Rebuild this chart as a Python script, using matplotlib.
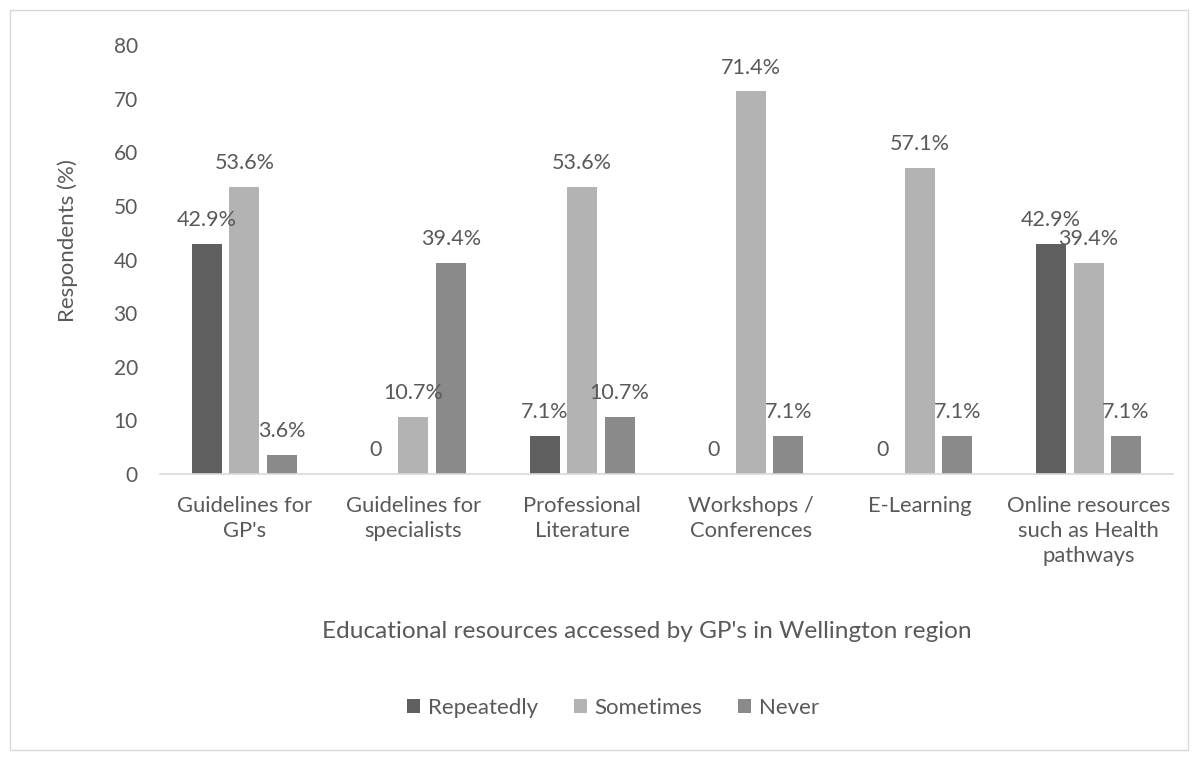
import numpy as np
import matplotlib.pyplot as plt
from matplotlib.patches import Rectangle

plt.rcParams['font.family'] = ['Lato', 'DejaVu Sans']

categories = ["Guidelines for\nGP's", "Guidelines for\nspecialists", "Professional\nLiterature",
              "Workshops /\nConferences", "E-Learning", "Online resources\nsuch as Health\npathways"]
series = ["Repeatedly", "Sometimes", "Never"]
repeatedly = [42.9, 0, 7.1, 0, 0, 42.9]
sometimes = [53.6, 10.7, 53.6, 71.4, 57.1, 39.4]
never = [3.6, 39.4, 10.7, 7.1, 7.1, 7.1]
colors = ["#5f5f5f", "#b3b3b3", "#8a8a8a"]
text_col = "#595959"

W, H = 1198, 760
fig = plt.figure(figsize=(W / 100, H / 100), dpi=100)
fig.patches.append(Rectangle((10 / W, 10 / H), 1178 / W, 740 / H, transform=fig.transFigure,
                             fill=False, edgecolor="#d9d9d9", linewidth=1))
# plot area: x 160..1173 px, y 45..474 px
ax = fig.add_axes([160 / W, 1 - 474 / H, (1173 - 160) / W, (474 - 45) / H])

x = np.arange(len(categories))
width = 0.178
step = 0.222
for i, (name, vals) in enumerate(zip(series, [repeatedly, sometimes, never])):
    pos = x + (i - 1) * step
    ax.bar(pos, vals, width, color=colors[i], label=name)
    for xp, v in zip(pos, vals):
        lab = "0" if v == 0 else f"{v}%"
        ax.annotate(lab, (xp, v), xytext=(0, 17), textcoords="offset points",
                    ha="center", va="center", fontsize=15.5, color=text_col)

ax.set_xlim(-0.5, len(categories) - 0.5)
ax.set_ylim(0, 80)
ax.set_yticks(range(0, 81, 10))
ax.set_xticks(x)
ax.set_xticklabels(categories, fontsize=15.8, color=text_col, linespacing=1.3)
ax.tick_params(axis="y", length=0, labelsize=15, labelcolor=text_col, pad=16)
ax.tick_params(axis="x", length=0, pad=16)
for s in ["top", "right", "left"]:
    ax.spines[s].set_visible(False)
ax.spines["bottom"].set_color("#d9d9d9")
ax.spines["bottom"].set_linewidth(1.2)

fig.text(68 / W, 1 - 322 / H, "Respondents (%)", rotation=90, ha="center", va="bottom",
         fontsize=16, color=text_col)
fig.text(647 / W, 1 - 631 / H, "Educational resources accessed by GP's in Wellington region",
         ha="center", va="center", fontsize=17.6, color=text_col)
fig.legend(loc="center", bbox_to_anchor=(613 / W, 1 - 708 / H), ncol=3, frameon=False,
           fontsize=16, labelcolor=text_col, handlelength=0.6, handleheight=0.6, columnspacing=1.6,
           handletextpad=0.35)

fig.savefig("out.png", dpi=100)
